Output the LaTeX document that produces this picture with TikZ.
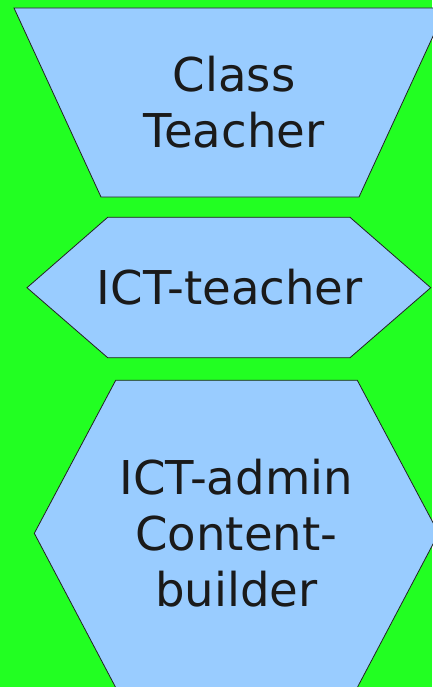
\documentclass[tikz,border=0pt]{standalone}
\usepackage{fontspec}
\setmainfont{DejaVu Sans}
\definecolor{bggreen}{HTML}{22FF22}
\definecolor{shapeblue}{HTML}{99CCFF}
\definecolor{txtdark}{HTML}{1A1A1A}
\definecolor{edgedark}{HTML}{222222}
\begin{document}
\begin{tikzpicture}[x=1pt,y=-1pt,
  shapebox/.style={fill=shapeblue,draw=edgedark,line width=0.8pt,line join=miter},
  label/.style={inner sep=0pt,align=center,text=txtdark,font=\fontsize{46.6}{56}\selectfont}]
\fill[bggreen] (0,0) rectangle (432,687);
\useasboundingbox (0,0) rectangle (432,687);
% top trapezoid
\path[shapebox] (14,8) -- (446,8) -- (359,197) -- (101,197) -- cycle;
% middle hexagon
\path[shapebox] (107.7,217.3) -- (350,217.3) -- (430.7,287.7) -- (350,357.7) -- (107.7,357.7) -- (27,287.7) -- cycle;
% bottom hexagon
\path[shapebox] (115.7,380.3) -- (357.3,380.3) -- (438.7,533.3) -- (357.3,687.5) -- (115.7,687.5) -- (34.3,533.3) -- cycle;
\node[label] (ct) at (234,102) {Class\\Teacher};
\node[label] (ictt) at (229.7,287.2) {ICT-teacher};
\node[label] (icta) at (236.3,533.3) {ICT-admin\\Content-\\builder};
\end{tikzpicture}
\end{document}
